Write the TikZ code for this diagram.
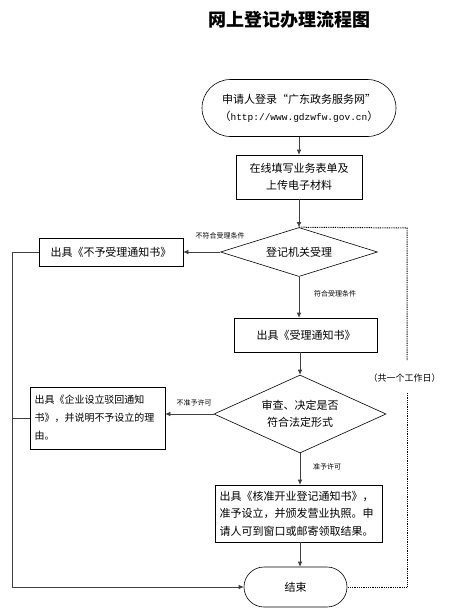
\documentclass[tikz,border=0pt]{standalone}
\usepackage{fontspec}
\setmainfont{Noto Sans CJK SC}
\setmonofont{Liberation Mono}
\usetikzlibrary{shapes.geometric,shapes.misc,arrows.meta,positioning}

\begin{document}
\begin{tikzpicture}[x=1pt, y=-1pt,
    box/.style={draw, line width=0.6pt, inner sep=2pt, font=\fontsize{11}{17.5}\selectfont},
    term/.style={draw, rounded rectangle, line width=0.6pt, inner sep=2pt, font=\fontsize{11}{17}\selectfont},
    decide/.style={draw, diamond, line width=0.6pt, inner sep=0pt, align=center, font=\fontsize{11}{17}\selectfont},
    lbl/.style={font=\fontsize{7}{8}\selectfont},
    arr/.style={draw=black!75, line width=0.6pt, -{Latex[length=5pt,width=4.5pt]}},
    link/.style={draw=black!75, line width=0.6pt},
    dots/.style={draw=black, line width=1pt, dash pattern=on 0.9pt off 0.9pt}]

    % Page frame
    \fill[white] (0,0) rectangle (453,614);
    \useasboundingbox (0,0) rectangle (453,614);

    % Title
    \node[font=\fontsize{18}{20}\selectfont\bfseries] (title) at (289,20) {网上登记办理流程图};

    % Main column
    \node[term, minimum width=198pt, minimum height=57pt, align=center] (start) at (299,108)
        {申请人登录“广东政务服务网”\\（{\ttfamily\fontsize{9.5}{12}\selectfont http://www.gdzwfw.gov.cn}）};
    \node[box, minimum width=126pt, minimum height=44pt, align=center] (form) at (299,177)
        {在线填写业务表单及\\上传电子材料};
    \node[decide, minimum width=157pt, minimum height=49pt, aspect=3.2] (accept) at (299,252) {登记机关受理};
    \node[box, minimum width=143pt, minimum height=34pt] (notice) at (306,335) {出具《受理通知书》};
    \node[decide, minimum width=172pt, minimum height=78pt, aspect=2.2] (review) at (300,414)
        {审查、决定是否\\符合法定形式};
    \node[box, minimum width=167pt, minimum height=57pt, text width=158pt, align=left] (approve) at (298.5,513.5)
        {出具《核准开业登记通知书》，\\准予设立，并颁发营业执照。申\\请人可到窗口或邮寄领取结果。};
    \node[term, minimum width=107pt, minimum height=40pt] (end) at (295.5,587) {结束};

    % Left column
    \node[box, minimum width=144pt, minimum height=28pt] (refuse) at (111,252) {出具《不予受理通知书》};
    \node[box, minimum width=135pt, minimum height=62pt, text width=126pt, align=left,
        font=\fontsize{10}{18}\selectfont] (reject) at (97.5,418)
        {出具《企业设立驳回通知\\书》，并说明不予设立的理\\由。};

    % Branch labels
    \node[lbl] (nofit) at (220,236) {不符合受理条件};
    \node[lbl] (fit) at (335,294) {符合受理条件};
    \node[lbl] (deny) at (194,403) {不准予许可};
    \node[lbl] (grant) at (327,467) {准予许可};
    \node[font=\fontsize{9}{10}\selectfont] (days) at (404.5,378) {（共一个工作日）};

    % Helper points
    \coordinate (lb) at (12,587);
    \coordinate (dt) at (407,228);
    \coordinate (gt) at (407,360);
    \coordinate (gb) at (407,393);
    \coordinate (db) at (407,587);

    % Connectors
    \draw[arr] (start.south) -- (form.north);
    \draw[arr] (form.south) -- (accept.north);
    \draw[arr] (accept.west) -- (refuse.east);
    \draw[arr] (accept.south) -- (accept.south |- notice.north);
    \draw[arr] (review.north |- notice.south) -- (review.north);
    \draw[arr] (review.west) -- (reject.east |- review.west);
    \draw[arr] (review.south) -- (review.south |- approve.north);
    \draw[arr] (review.south |- approve.south) -- (review.south |- end.north);
    \draw[arr] (refuse.west) -- (refuse.west -| lb) -- (lb) -- (end.west);
    \draw[link] (reject.west) -- (reject.west -| lb);

    % One working day bracket (dotted)
    \draw[dots] (accept.north) -- (dt) -- (gt);
    \draw[dots] (gb) -- (db) -- (end.east);

\end{tikzpicture}
\end{document}
